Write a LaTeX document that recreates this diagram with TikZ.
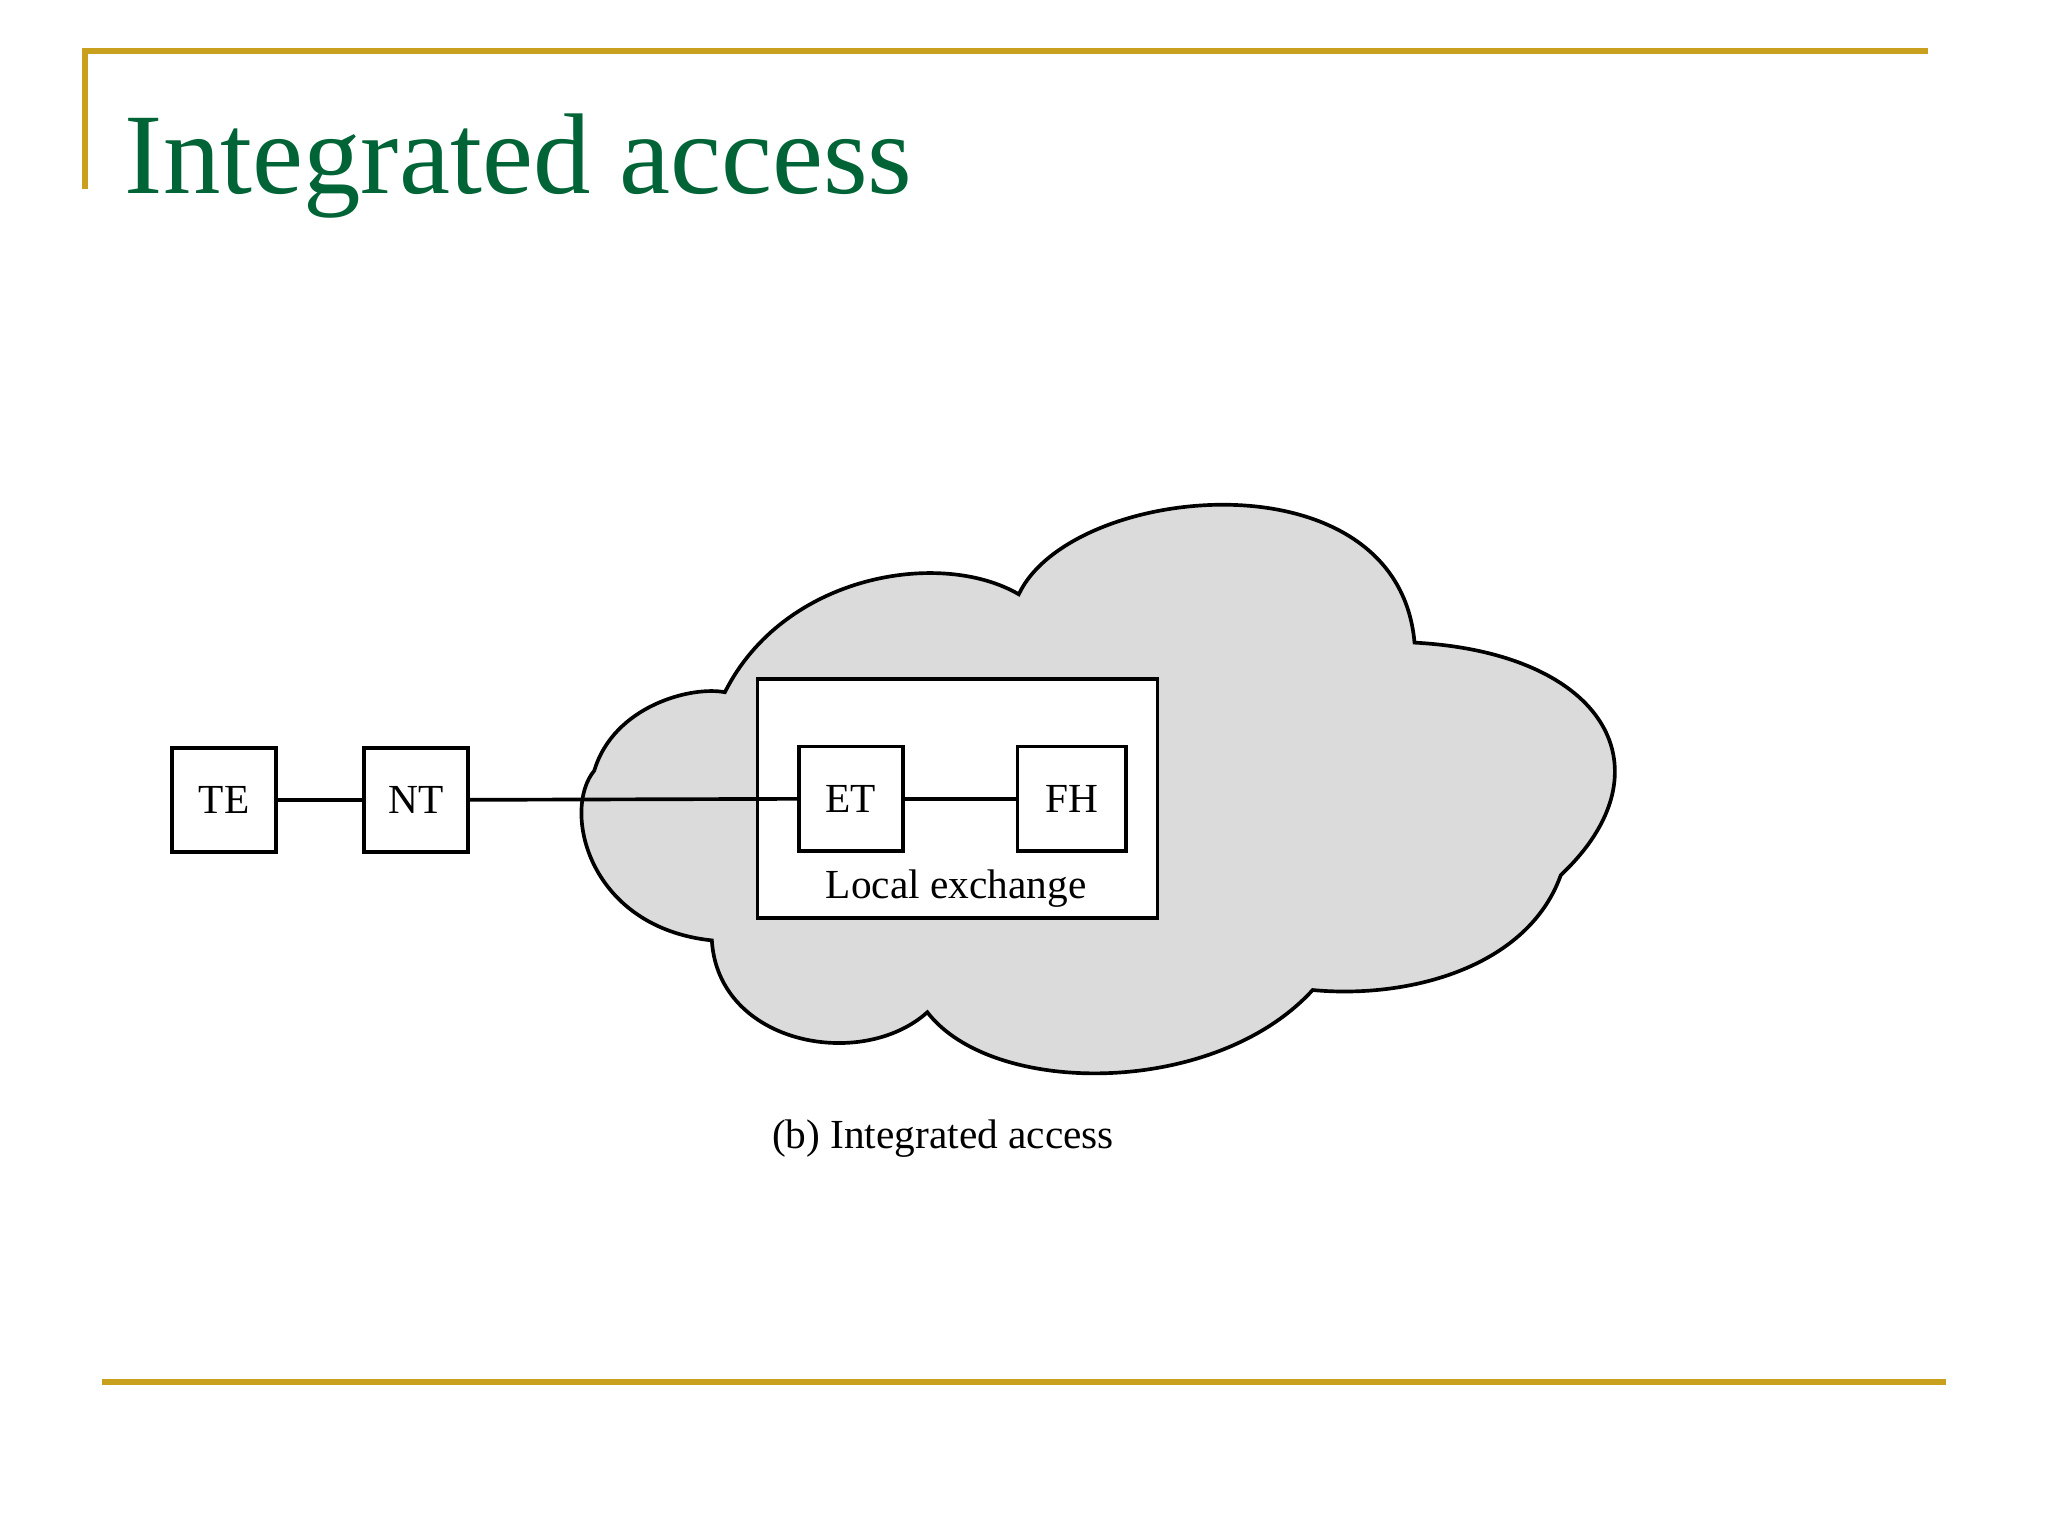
\documentclass[tikz,border=0pt]{standalone}
\usepackage{fontspec}
\setmainfont{Liberation Serif}
\begin{document}
\begin{tikzpicture}[x=0.01cm,y=-0.01cm,
  box/.style={draw,thick,minimum width=0.8cm,minimum height=0.8cm,inner sep=0pt,font=\fontsize{9}{9}\selectfont}]
\definecolor{gold}{RGB}{200,160,30}
\definecolor{tgreen}{RGB}{0,100,55}
\useasboundingbox (0,0) rectangle (1568,1176);
\fill[white] (0,0) rectangle (1568,1176);
\draw[gold,line width=1.2pt] (65,145) -- (65,39) -- (1476,39);
\draw[gold,line width=1.2pt] (78,1058) -- (1490,1058);
\node[anchor=base west,text=tgreen,font=\fontsize{25}{25}\selectfont,inner sep=0pt] (title) at (95,148) {Integrated access};
\draw[thick,fill=black!14] (555,530) .. controls (600,440) and (720,420) .. (780,455)
 .. controls (820,370) and (1070,345) .. (1083,492)
 .. controls (1230,500) and (1280,590) .. (1195,670)
 .. controls (1170,740) and (1080,765) .. (1005,758)
 .. controls (930,840) and (760,840) .. (710,775)
 .. controls (660,820) and (550,800) .. (545,720)
 .. controls (450,710) and (430,620) .. (455,590)
 .. controls (470,540) and (530,525) .. (555,530) -- cycle;
\node[draw,thick,fill=white,minimum width=3.06cm,minimum height=1.83cm,inner sep=0pt] (le) at (733,611.5) {};
\node[font=\fontsize{9}{9}\selectfont] (lel) at (732,680) {Local exchange};
\node[box,fill=white] (te) at (171.5,612.5) {TE};
\node[box,fill=white] (nt) at (318.5,612.5) {NT};
\node[box,fill=white] (et) at (651.5,611.5) {ET};
\node[box,fill=white,minimum width=0.83cm] (fh) at (820.5,611.5) {FH};
\draw[thick] (te) -- (nt);
\draw[thick] (nt) -- (et);
\draw[thick] (et) -- (fh);
\node[font=\fontsize{9}{9}\selectfont] (cap) at (722,872) {(b) Integrated access};
\end{tikzpicture}
\end{document}
